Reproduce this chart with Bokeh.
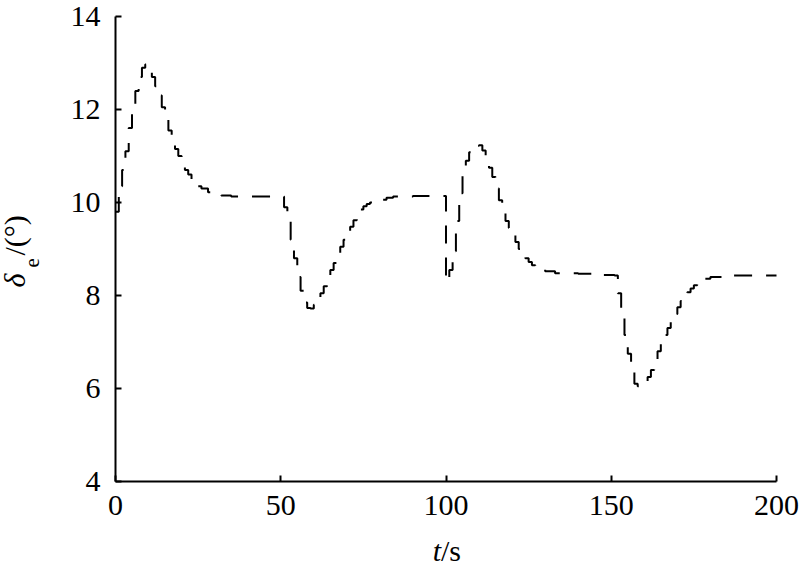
from bokeh.plotting import figure
from bokeh.models import Label, Range1d, FixedTicker
from bokeh.embed import file_html
from bokeh.resources import INLINE
import math

# time samples (s)
t_s = [0, 1, 2, 3, 4, 5, 6, 7, 8, 9, 10, 11, 12, 13, 14, 15, 16, 17, 18, 19,
       20, 21, 22, 23, 24, 25, 26, 28, 30, 32, 35, 40,
       51, 52, 53, 54, 55, 56, 57, 58, 59, 60, 61, 62, 63, 64, 65, 66, 67, 68,
       69, 70, 71, 72, 73, 74, 75, 76, 77, 78, 80, 82, 84, 90,
       100, 101, 102, 103, 104, 105, 106, 107, 108, 109, 110, 111, 112, 113,
       114, 115, 116, 117, 118, 119, 120, 121, 122, 123, 124, 125, 126, 127,
       128, 130, 133, 140, 145,
       151, 152, 153, 154, 155, 156, 157, 158, 159, 160, 161, 162, 163, 164,
       165, 166, 167, 168, 169, 170, 171, 172, 173, 174, 175, 176, 177, 178,
       180, 185, 200]

# elevator deflection (deg)
delta_e = [9.8, 10.35, 10.7, 11.1, 11.6, 12.0, 12.4, 12.7, 12.9, 12.97, 12.9,
           12.7, 12.5, 12.3, 12.05, 11.8, 11.55, 11.35, 11.15, 11.0,
           10.85, 10.7, 10.6, 10.5, 10.42, 10.35, 10.3, 10.22, 10.18, 10.15,
           10.13, 10.13,
           9.9, 9.6, 9.2, 8.8, 8.4, 8.1, 7.85, 7.73, 7.72, 7.8, 7.92, 8.05,
           8.2, 8.38, 8.55, 8.7, 8.86, 9.05,
           9.2, 9.35, 9.48, 9.62, 9.75, 9.85, 9.92, 9.97, 10.0, 10.03, 10.06,
           10.1, 10.13, 10.14,
           8.3, 8.55, 8.95, 9.6, 10.2, 10.6, 10.9, 11.08, 11.18, 11.22, 11.23,
           11.12, 10.95, 10.75,
           10.55, 10.3, 10.05, 9.8, 9.6, 9.45, 9.3, 9.15, 9.0, 8.9, 8.8, 8.72,
           8.65, 8.6,
           8.56, 8.52, 8.48, 8.47, 8.44,
           8.43, 8.05, 7.6, 7.15, 6.75, 6.35, 6.1, 6.05, 6.06, 6.1, 6.25, 6.4,
           6.6, 6.8,
           6.98, 7.15, 7.3, 7.45, 7.6, 7.75, 7.88, 7.98, 8.07, 8.15, 8.22, 8.28,
           8.33, 8.36,
           8.4, 8.43, 8.43]

x_ticks = [0, 50, 100, 150, 200]
y_ticks = [4, 6, 8, 10, 12, 14]
x_lim = (0, 200)
y_lim = (4, 14)

SERIF = "Liberation Serif"

W, H = 800, 570
# pixel placement of the axes box inside the canvas
L, R, T, B = 115, 776, 16, 481
sx = (R - L) / (x_lim[1] - x_lim[0])
sy = (B - T) / (y_lim[1] - y_lim[0])
x_range = Range1d(x_lim[0] - L / sx, x_lim[1] + (W - R) / sx)
y_range = Range1d(y_lim[0] - (H - B) / sy, y_lim[1] + T / sy)

p = figure(width=W, height=H, output_backend="svg", toolbar_location=None,
           x_range=x_range, y_range=y_range, min_border=0)
p.outline_line_color = None
p.xgrid.visible = False
p.ygrid.visible = False
p.background_fill_color = "white"
p.border_fill_color = "white"

p.step(t_s, delta_e, mode="after", line_color="black", line_width=2,
       line_dash="18 14")

p.xaxis.fixed_location = y_lim[0]
p.xaxis.bounds = x_lim
p.yaxis.fixed_location = x_lim[0]
p.yaxis.bounds = y_lim

for ax, ticks in ((p.xaxis, x_ticks), (p.yaxis, y_ticks)):
    ax.ticker = FixedTicker(ticks=ticks)
    ax.axis_line_color = "black"
    ax.axis_line_width = 2
    ax.major_tick_line_color = "black"
    ax.major_tick_line_width = 2
    ax.major_tick_in = 6
    ax.major_tick_out = 0
    ax.minor_tick_line_color = None
    ax.major_label_text_font = SERIF
    ax.major_label_text_font_size = "30px"
    ax.major_label_text_color = "black"
    ax.axis_label = None
p.xaxis.major_label_standoff = 14
p.yaxis.major_label_standoff = 15

# x-axis label: italic t + "/s"
lab_kw = dict(text_font=SERIF, text_baseline="alphabetic", text_color="black")
p.add_layout(Label(x=100, y=y_lim[0], x_offset=-5, y_offset=-69, text="t",
                   text_font_style="italic", text_font_size="30px",
                   text_align="right", **lab_kw))
p.add_layout(Label(x=100, y=y_lim[0], x_offset=-5, y_offset=-69, text="/s",
                   text_font_size="30px", text_align="left", **lab_kw))

# y-axis label: italic delta, subscript e, "/(°)"
ang = math.pi / 2
p.add_layout(Label(x=x_lim[0], y=y_lim[0], x_offset=-101, y_offset=194,
                   text="δ", angle=ang, text_font_style="italic",
                   text_font_size="30px", text_align="left", **lab_kw))
p.add_layout(Label(x=x_lim[0], y=y_lim[0], x_offset=-84, y_offset=214,
                   text="e", angle=ang, text_font_size="21px",
                   text_align="left", **lab_kw))
p.add_layout(Label(x=x_lim[0], y=y_lim[0], x_offset=-101, y_offset=226,
                   text="/(°)", angle=ang, text_font_size="30px",
                   text_align="left", **lab_kw))

open("out.html", "w").write(file_html(p, INLINE))
